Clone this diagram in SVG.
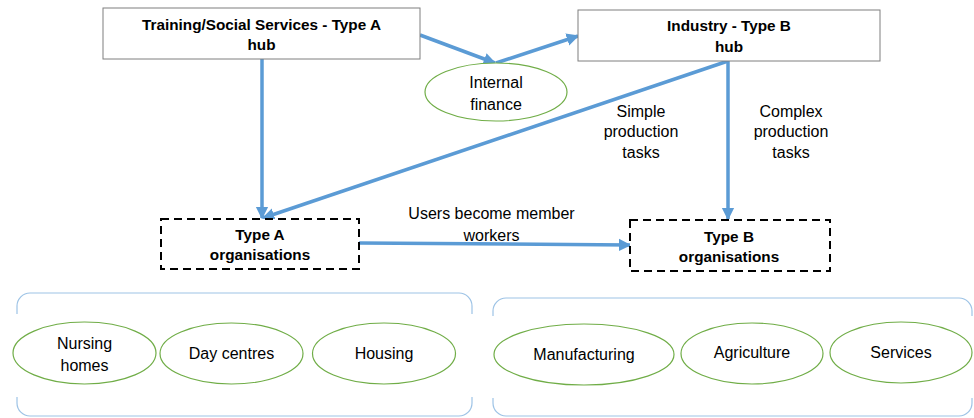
<svg xmlns="http://www.w3.org/2000/svg" width="974" height="418" viewBox="0 0 974 418">
<defs>
<style>
.hub{fill:#fff;stroke:#7f7f7f;stroke-width:1}
.org{fill:#fff;stroke:#000;stroke-width:2;stroke-dasharray:8 5}
.ell{fill:#fff;stroke:#70ad47;stroke-width:1.2}
.cont{fill:none;stroke:#9dc3e6;stroke-width:1.2}
.arr{fill:none;stroke:#5b9bd5;stroke-width:3.5;marker-end:url(#ah)}
text{font-family:"Liberation Sans",Arial,sans-serif;font-size:16px;fill:#000;text-anchor:middle}
.b{font-weight:bold;font-size:15.3px}
</style>
<marker id="ah" viewBox="0 0 10 10" refX="9" refY="5" markerWidth="3.6" markerHeight="4.2" orient="auto" markerUnits="strokeWidth">
<path d="M0,0 L10,5 L0,10 z" fill="#5b9bd5"/>
</marker>
</defs>

<g id="containers">
<path class="cont" d="M17 314 V306 A13 13 0 0 1 30 293 H459 A13 13 0 0 1 472 306 V314"/>
<path class="cont" d="M17 397 V403 A13 13 0 0 0 30 416 H459 A13 13 0 0 0 472 403 V397"/>
<path class="cont" d="M493 316 V311 A13 13 0 0 1 506 298 H959 A13 13 0 0 1 972 311 V316"/>
<path class="cont" d="M493 398 V403 A13 13 0 0 0 506 416 H959 A13 13 0 0 0 972 403 V398"/>
</g>

<g id="connectors">
<line class="arr" x1="420" y1="35" x2="495" y2="63"/>
<line class="arr" x1="496" y1="63" x2="578" y2="36"/>
<line class="arr" x1="262" y1="59" x2="262" y2="218"/>
<line class="arr" x1="728" y1="61" x2="728" y2="219"/>
<line class="arr" x1="728" y1="61" x2="263" y2="218"/>
<line class="arr" x1="359" y1="243" x2="630" y2="245"/>
</g>

<g id="hubA">
<rect class="hub" x="103" y="8" width="317" height="51"/>
<text class="b" x="261.5" y="30">Training/Social Services - Type A</text>
<text class="b" x="261.5" y="50">hub</text>
</g>

<g id="hubB">
<rect class="hub" x="578" y="10" width="302" height="51"/>
<text class="b" x="729" y="31">Industry - Type B</text>
<text class="b" x="729" y="52">hub</text>
</g>

<g id="finance">
<ellipse class="ell" cx="496" cy="92" rx="71" ry="29"/>
<text x="496" y="88">Internal</text>
<text x="496" y="110">finance</text>
</g>

<g id="orgA">
<rect class="org" x="161" y="219" width="198" height="50"/>
<text class="b" x="260" y="240">Type A</text>
<text class="b" x="260" y="260">organisations</text>
</g>

<g id="orgB">
<rect class="org" x="630" y="220" width="200" height="51"/>
<text class="b" x="729" y="242">Type B</text>
<text class="b" x="729" y="262">organisations</text>
</g>

<g id="labels">
<text x="491.5" y="219">Users become member</text>
<text x="491.5" y="241">workers</text>
<text x="641" y="117">Simple</text>
<text x="641" y="137">production</text>
<text x="641" y="158">tasks</text>
<text x="791" y="117">Complex</text>
<text x="791" y="137">production</text>
<text x="791" y="158">tasks</text>
</g>

<g id="nursing">
<ellipse class="ell" cx="84.5" cy="353" rx="71.5" ry="31"/>
<text x="84.5" y="349">Nursing</text>
<text x="84.5" y="371">homes</text>
</g>
<g id="daycentres">
<ellipse class="ell" cx="231.5" cy="353.5" rx="71.5" ry="30.5"/>
<text x="231.5" y="359">Day centres</text>
</g>
<g id="housing">
<ellipse class="ell" cx="384" cy="353.5" rx="71.5" ry="30.5"/>
<text x="384" y="359">Housing</text>
</g>
<g id="manufacturing">
<ellipse class="ell" cx="584" cy="354.5" rx="90" ry="30.5"/>
<text x="584" y="360">Manufacturing</text>
</g>
<g id="agriculture">
<ellipse class="ell" cx="752" cy="353.5" rx="71" ry="30.5"/>
<text x="752" y="358">Agriculture</text>
</g>
<g id="services">
<ellipse class="ell" cx="901" cy="352.5" rx="71" ry="30.5"/>
<text x="901" y="358">Services</text>
</g>
</svg>
